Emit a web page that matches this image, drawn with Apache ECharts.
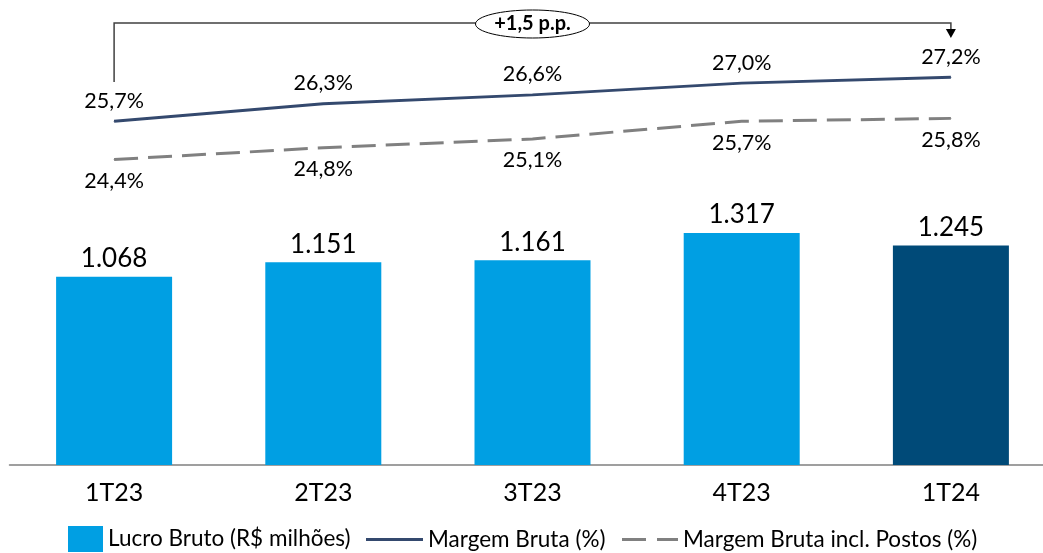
<!DOCTYPE html>
<html><head><meta charset="utf-8">
<script src="https://cdn.jsdelivr.net/npm/echarts@6/dist/echarts.min.js"></script>
<style>html,body{margin:0;padding:0;background:#fff}#c{width:1043px;height:553px}</style>
</head><body><div id="c"></div>
<script>
var categories = ['1T23', '2T23', '3T23', '4T23', '1T24'];
var lucroBruto = [1068, 1151, 1161, 1317, 1245];
var margemBruta = [25.7, 26.3, 26.6, 27.0, 27.2];
var margemPostos = [24.4, 24.8, 25.1, 25.7, 25.8];
var annotationText = '+1,5 p.p.';

var FONT = 'Lato';
var SOLID = '#34496E', DASH = '#808080';
var chart = echarts.init(document.getElementById('c'));
var pct = function (p) { return p.value.toFixed(1).replace('.', ',') + '%'; };
var option = {
  animation: false,
  textStyle: { fontFamily: FONT },
  grid: { left: 9.5, width: 1046, top: 42, bottom: 88, outerBoundsMode: 'none', containLabel: false },
  xAxis: {
    type: 'category', data: categories,
    axisLine: { lineStyle: { color: '#808080', width: 1.5 } },
    axisTick: { show: false },
    axisLabel: { color: '#000', fontSize: 25, fontFamily: FONT, margin: 15 }
  },
  yAxis: [
    { type: 'value', min: 0, max: 2400, show: false, splitLine: { show: false } },
    { type: 'value', min: 14, max: 28.4, show: false, splitLine: { show: false } }
  ],
  legend: [
    { left: 68, top: 526, padding: 0, itemWidth: 35, itemHeight: 26, itemGap: 5,
      data: [{ name: 'Lucro Bruto (R$ milhões)', icon: 'rect', itemStyle: { color: '#009FE3' } }],
      textStyle: { fontSize: 22.5, color: '#000', fontFamily: FONT } },
    { left: 366, top: 528, padding: 0, itemWidth: 57, itemHeight: 3,
      data: [{ name: 'Margem Bruta (%)', icon: 'rect', itemStyle: { color: SOLID } }],
      textStyle: { fontSize: 22.5, color: '#000', fontFamily: FONT } },
    { left: 622, top: 528, padding: 0, itemWidth: 56, itemHeight: 3,
      data: [{ name: 'Margem Bruta incl. Postos (%)', icon: 'path://M0,0H24V3H0Z M35,0H56V3H35Z', itemStyle: { color: DASH } }],
      textStyle: { fontSize: 22.5, color: '#000', fontFamily: FONT } }
  ],
  series: [
    {
      name: 'Lucro Bruto (R$ milhões)', type: 'bar', barWidth: 116,
      data: lucroBruto.map(function (v, i) {
        return { value: v, itemStyle: { color: i === lucroBruto.length - 1 ? '#004A78' : '#009FE3' } };
      }),
      itemStyle: { color: '#009FE3' },
      label: { show: true, position: 'top', distance: 5, color: '#000', fontSize: 26, fontFamily: FONT,
        formatter: function (p) { return (p.value / 1000).toFixed(3); } }
    },
    {
      name: 'Margem Bruta (%)', type: 'line', yAxisIndex: 1, data: margemBruta,
      symbol: 'circle', symbolSize: 1, lineStyle: { color: SOLID, width: 3 }, itemStyle: { color: SOLID },
      label: { show: true, position: 'top', distance: 9, color: '#000', fontSize: 21.5, fontFamily: FONT, formatter: pct }
    },
    {
      name: 'Margem Bruta incl. Postos (%)', type: 'line', yAxisIndex: 1, data: margemPostos,
      symbol: 'circle', symbolSize: 1, lineStyle: { color: DASH, width: 3, type: [24, 10] }, itemStyle: { color: DASH },
      label: { show: true, position: 'bottom', distance: 10, color: '#000', fontSize: 21.5, fontFamily: FONT, formatter: pct }
    }
  ]
};
chart.setOption(option);

var x0 = chart.convertToPixel({ xAxisIndex: 0 }, categories[0]);
var x1 = chart.convertToPixel({ xAxisIndex: 0 }, categories[categories.length - 1]);
var yTop = 23, xm = (x0 + x1) / 2;
chart.setOption({
  graphic: [
    { type: 'polyline', shape: { points: [[x0, 82], [x0, yTop], [x1, yTop], [x1, 30]] },
      style: { stroke: '#404040', lineWidth: 1.5, fill: null } },
    { type: 'polygon', shape: { points: [[x1 - 5, 29], [x1 + 5, 29], [x1, 38]] }, style: { fill: '#000' } },
    { type: 'ellipse', shape: { cx: xm, cy: 24, rx: 57, ry: 14 }, style: { fill: '#fff', stroke: '#000', lineWidth: 1 } },
    { type: 'text', x: xm, y: 24, style: { text: annotationText, fontFamily: FONT, fontWeight: 'bold', fontSize: 20,
      fill: '#000', align: 'center', verticalAlign: 'middle' } }
  ]
});
</script></body></html>
